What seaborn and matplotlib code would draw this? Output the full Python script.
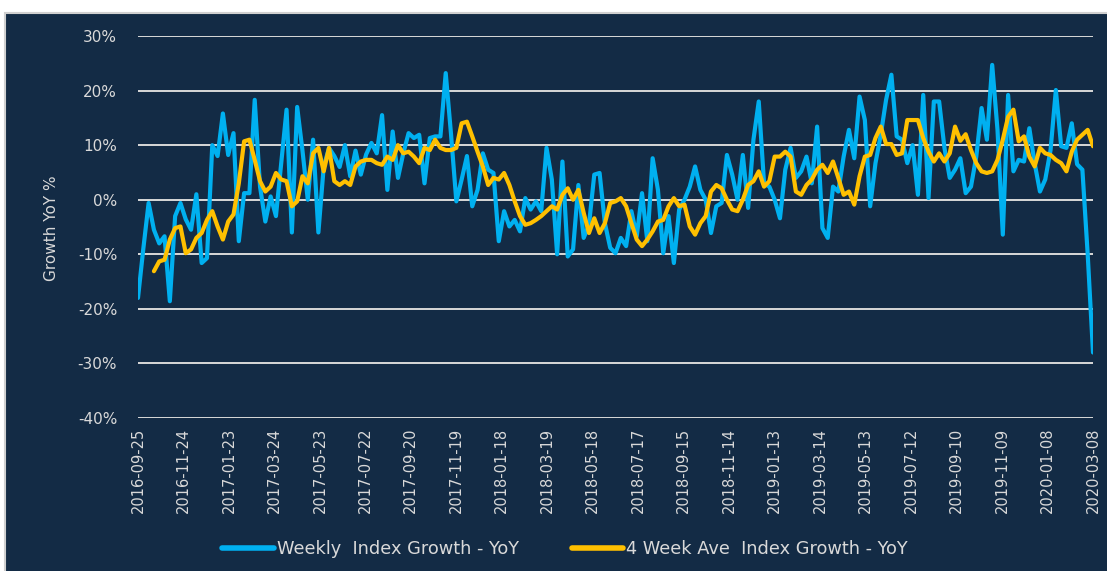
import numpy as np
import pandas as pd
import matplotlib
matplotlib.use("Agg")
import matplotlib.pyplot as plt
from matplotlib.patches import Rectangle
from matplotlib.lines import Line2D
import seaborn as sns

# ---------------- data ----------------
start_date = "2016-09-25"

weekly_growth = [
    -18, -9, -0.6, -5.5, -8, -6.7, -18.6, -3, -0.6, -3.6,
    -5.5, 1, -11.6, -10.7, 10, 8, 15.8, 8.2, 12.2, -7.6,
    1.2, 1.2, 18.3, 2.4, -4, 0.6, -3, 6.7, 16.5, -6,
    17, 9, 0, 11, -6, 6, 9.5, 8, 6, 10,
    4.3, 9, 4.6, 8.3, 10.4, 8.5, 15.5, 1.8, 12.5, 4,
    8.5, 12.2, 11.3, 11.9, 3, 11.3, 11.6, 11.6, 23.2, 12,
    -0.3, 3.7, 8, -1.2, 1.8, 8.5, 5.5, 4.9, -7.6, -2.1,
    -4.9, -3.7, -5.8, 0.3, -1.8, -0.3, -2.1, 9.5, 3.7, -10,
    7, -10.4, -9.1, 2.7, -7, -4.6, 4.6, 4.9, -4.3, -8.8,
    -9.8, -7, -8.5, -2.1, -6.7, 1.2, -7.6, 7.6, 1.8, -9.8,
    -3, -11.6, -1.8, 0, 2.4, 6.1, 1.8, 0, -6.1, -1.2,
    -0.6, 8.2, 4.6, 0, 8.2, -1.5, 11, 18,
    3, 2.4, 0, -3.4, 5.5, 9.5, 4, 5.2, 7.9, 3,
    13.4, -5.2, -7, 2.4, 1.5, 7.9, 12.8, 7.6, 18.9, 14.6,
    -1.2, 6.7, 11.9, 18.3, 22.9, 11.6, 11, 6.7, 10, 0.9,
    19.2, 0.3, 18, 18, 9.5, 4, 5.5, 7.6, 1.2, 2.4,
    7.9, 16.8, 11, 24.7, 12.8, -6.4, 19.2, 5.2, 7.3, 7,
    13.1, 6.7, 1.5, 3.7, 9.1, 20.1, 9.8, 9.5, 14, 6.5,
    5.5, -10, -28,
]

avg_start_week = 3
avg4_growth = [
    -13.1, -11.3, -11, -7.3, -5.2, -4.9, -9.8, -9.1, -7, -6.1,
    -3.7, -2.1, -4.9, -7.3, -4, -2.7, 3, 10.7, 11, 7.3,
    3.4, 1.5, 2.4, 4.9, 3.7, 3.4, -1.2, -0.3, 4.3, 3,
    8.5, 9.5, 5.2, 9.5, 3.4, 2.7, 3.4, 2.7, 6.1, 7,
    7.3, 7.3, 6.7, 6.4, 7.9, 7.3, 10, 8.5, 8.8, 7.9,
    6.7, 9.5, 9.1, 11, 9.5, 9.1, 9.1, 9.5, 14,
    14.3, 11.6, 8.8, 6.1, 2.7, 4, 3.7, 4.9, 2.7, -0.3,
    -3, -4.6, -4.3, -3.7, -3, -2.1, -1.2, -1.8, 0.9, 2.1,
    0, 1.8, -2.4, -6.1, -3.4, -6.1, -4.3, -0.6, -0.3, 0.3,
    -1.2, -4.3, -7.3, -8.5, -7.3, -5.8, -4, -3.7, -1.2, 0.3,
    -1.2, -0.9, -4.9, -6.4, -4.3, -3, 1.5, 2.7, 2.1, 0,
    -1.8,
    -2.1, 0, 2.7, 3.4, 5.2, 2.4, 3.4, 7.9, 7.9, 8.8,
    7.9, 1.5, 0.9, 2.7, 3.7, 5.5, 6.4, 4.9, 7, 4,
    0.9, 1.5, -0.9, 4.3, 7.9, 8.2, 11.3, 13.4, 10.2, 10.2,
    8.2, 8.5, 14.6, 14.6, 14.6, 11.3, 8.8, 7, 8.5, 7,
    8.5, 13.4, 10.8, 12, 9.1, 6.7, 5.2, 4.9, 5.2, 7.3,
    11, 15.2, 16.5, 10.7, 11.6, 7.9, 6.1, 9.5, 8.5, 8.2,
    7.3, 6.7, 5.2, 8.8, 11, 11.9, 12.8, 9.8,
]

tick_labels = [
    "2016-09-25", "2016-11-24", "2017-01-23", "2017-03-24", "2017-05-23",
    "2017-07-22", "2017-09-20", "2017-11-19", "2018-01-18", "2018-03-19",
    "2018-05-18", "2018-07-17", "2018-09-15", "2018-11-14", "2019-01-13",
    "2019-03-14", "2019-05-13", "2019-07-12", "2019-09-10", "2019-11-09",
    "2020-01-08", "2020-03-08",
]
y_ticks = [-40, -30, -20, -10, 0, 10, 20, 30]

series_names = ["Weekly  Index Growth - YoY", "4 Week Ave  Index Growth - YoY"]

# ---------------- build table ----------------
dates = pd.date_range(start_date, periods=len(weekly_growth), freq="7D")
df_w = pd.DataFrame({"date": dates, "value": weekly_growth, "series": series_names[0]})
df_a = pd.DataFrame({"date": dates[avg_start_week:avg_start_week + len(avg4_growth)],
                     "value": avg4_growth, "series": series_names[1]})
df = pd.concat([df_w, df_a], ignore_index=True)

# ---------------- style ----------------
navy = "#132b45"
blue = "#00b0f0"
yellow = "#ffc000"
txt = "#d9d9d9"
grid = "#d9d9d9"

sns.set_style("white")
plt.rcParams["font.family"] = ["DejaVu Sans"]

W, H = 1107, 571
fig = plt.figure(figsize=(W / 100, H / 100), dpi=100)
fig.patch.set_facecolor("white")
panel = Rectangle((5 / W, -0.01), 1.0, (H - 13) / H + 0.01, transform=fig.transFigure,
                  facecolor=navy, edgecolor="#d0d0d0", lw=1.5, zorder=-10)
fig.patches.append(panel)

ax = fig.add_axes([138 / W, (H - 418) / H, (1093 - 138) / W, (418 - 36) / H])
ax.set_facecolor("none")
ax.set_zorder(5)

sns.lineplot(data=df, x="date", y="value", hue="series",
             palette={series_names[0]: blue, series_names[1]: yellow},
             hue_order=series_names, estimator=None, linewidth=3.0,
             legend=False, ax=ax, solid_joinstyle="round", solid_capstyle="round")

ax.set_ylim(-40, 30)
ax.set_xlim(dates[0], dates[-1])
ax.set_yticks(y_ticks)
ax.set_yticklabels([f"{v}%" for v in y_ticks])
tick_dates = pd.to_datetime(tick_labels)
ax.set_xticks(tick_dates)
ax.set_xticklabels(tick_labels, rotation=90)

ax.yaxis.grid(True, color=grid, lw=1.4)
ax.xaxis.grid(False)
ax.set_axisbelow(True)
for s in ax.spines.values():
    s.set_visible(False)
ax.tick_params(axis="y", length=0, pad=15, labelsize=11, labelcolor=txt)
ax.tick_params(axis="x", length=0, pad=7, labelsize=10.5, labelcolor=txt)
ax.set_xlabel("")
ax.set_ylabel("")

fig.text(52 / W, 1 - 228 / H, "Growth YoY %", rotation=90, ha="center", va="center",
         color=txt, fontsize=11)

handles = [Line2D([0], [0], color=blue, lw=4),
           Line2D([0], [0], color=yellow, lw=4)]
leg = fig.legend(handles, series_names, loc="center", bbox_to_anchor=(565 / W, 1 - 549 / H),
                 ncol=2, frameon=False, fontsize=12.8, handlelength=2.9, handletextpad=0.15,
                 columnspacing=3.0, labelcolor=txt)

fig.savefig("out.png", dpi=100, facecolor=fig.get_facecolor())
